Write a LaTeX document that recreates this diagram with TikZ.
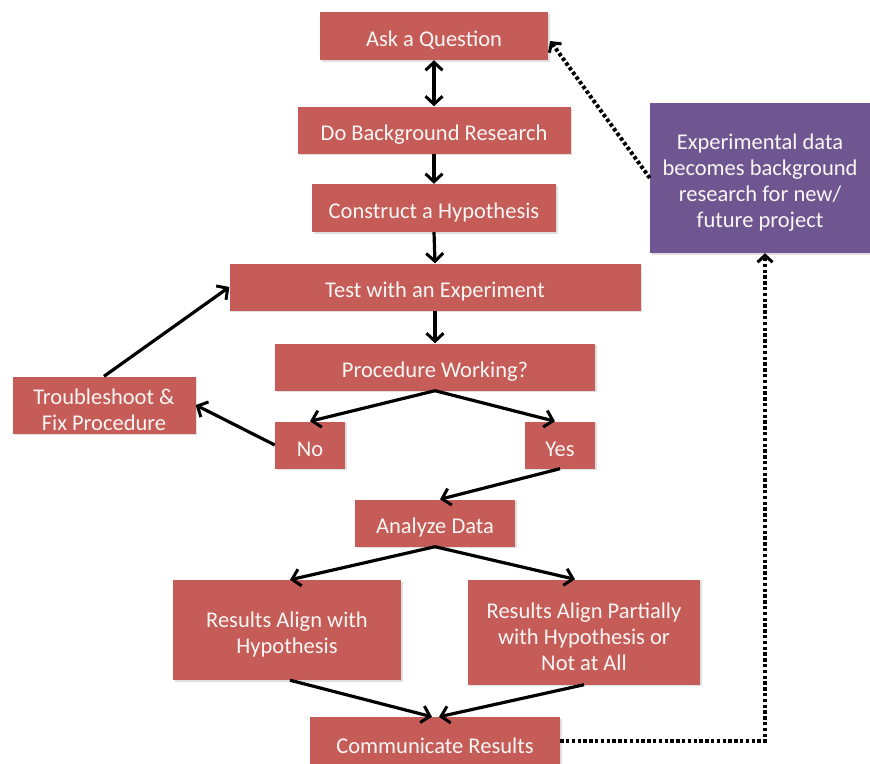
\documentclass[tikz,border=0pt]{standalone}
\usepackage{fontspec}
\setmainfont{Carlito}
\usetikzlibrary{arrows.meta,shadows}
\definecolor{boxred}{RGB}{197,92,88}
\definecolor{boxpurple}{RGB}{112,86,145}
\definecolor{txtwhite}{RGB}{250,246,244}
\tikzset{
  redbox/.style={fill=boxred, inner sep=0pt,
    drop shadow={shadow xshift=1.5pt, shadow yshift=-1.5pt, opacity=0.25}},
  purplebox/.style={redbox, fill=boxpurple},
  txt/.style={text=txtwhite, inner sep=0pt, align=center,
    font=\fontsize{22.5}{26}\selectfont, yshift=-4.5pt},
  conn/.style={line width=3.2pt, -{Straight Barb[length=8pt,width=17pt,line width=3pt]}},
  dotconn/.style={line width=4pt, dash pattern=on 3.4pt off 2.4pt,
    -{Straight Barb[length=7pt,width=15pt,line width=3pt]}}
}
\begin{document}
\begin{tikzpicture}[x=1pt,y=-1pt]
\useasboundingbox (0,0) rectangle (870,763);
\node[redbox, minimum width=228pt, minimum height=48pt, label={[txt]center:Ask a Question}] (ask) at (434,36) {};
\node[redbox, minimum width=273pt, minimum height=47pt, label={[txt]center:Do Background Research}] (bg) at (434,130) {};
\node[redbox, minimum width=244pt, minimum height=48pt, label={[txt]center:Construct a Hypothesis}] (hyp) at (434,208) {};
\node[redbox, minimum width=411pt, minimum height=47pt, label={[txt]center:Test with an Experiment}] (test) at (435,287) {};
\node[redbox, minimum width=320pt, minimum height=47pt, label={[txt]center:Procedure Working?}] (proc) at (435,367) {};
\node[redbox, minimum width=183pt, minimum height=57pt, label={[txt]center:{Troubleshoot \&\\Fix Procedure}}] (trouble) at (104,405) {};
\node[redbox, minimum width=70pt, minimum height=47pt, label={[txt]center:No}] (no) at (310,445) {};
\node[redbox, minimum width=70pt, minimum height=47pt, label={[txt]center:Yes}] (yes) at (560,445) {};
\node[redbox, minimum width=160pt, minimum height=47pt, label={[txt]center:Analyze Data}] (ana) at (435,523) {};
\node[redbox, minimum width=228pt, minimum height=100pt, label={[txt]center:{Results Align with\\Hypothesis}}] (ra) at (287,630) {};
\node[redbox, minimum width=232pt, minimum height=105pt, label={[txt]center:{Results Align Partially\\with Hypothesis or\\Not at All}}] (rp) at (584,632) {};
\node[redbox, minimum width=250pt, minimum height=48pt, label={[txt]center:Communicate Results}] (comm) at (435,741) {};
\node[purplebox, minimum width=220pt, minimum height=150pt, label={[txt]center:{Experimental data\\becomes background\\research for new/\\future project}}] (pur) at (760,178) {};

\draw[line width=3.2pt, {Straight Barb[length=8pt,width=17pt,line width=3pt]}-{Straight Barb[length=8pt,width=17pt,line width=3pt]}] (ask.south) -- (bg.north);
\draw[conn] (bg.south) -- (hyp.north);
\draw[conn] (hyp.south) -- (test.north);
\draw[conn] (test.south) -- (proc.north);
\draw[conn] (proc.south) -- (no.north);
\draw[conn] (proc.south) -- ([xshift=-5pt]yes.north);
\draw[conn] (no.west) -- (trouble.east);
\draw[conn] (trouble.north) -- (test.west);
\draw[conn] (yes.south) -- ([xshift=5pt]ana.north);
\draw[conn] (ana.south) -- ([xshift=3pt]ra.north);
\draw[conn] (ana.south) -- ([xshift=-9pt]rp.north);
\draw[conn] ([xshift=3pt]ra.south) -- ([xshift=-3pt]comm.north);
\draw[conn] (rp.south) -- ([xshift=4pt]comm.north);
\coordinate (corner) at (765,741);
\draw[dotconn] (comm.east) -- (corner) -- ([xshift=5pt]pur.south);
\draw[dotconn] (pur.west) -- ([xshift=2pt,yshift=-5pt]ask.east);
\end{tikzpicture}
\end{document}
